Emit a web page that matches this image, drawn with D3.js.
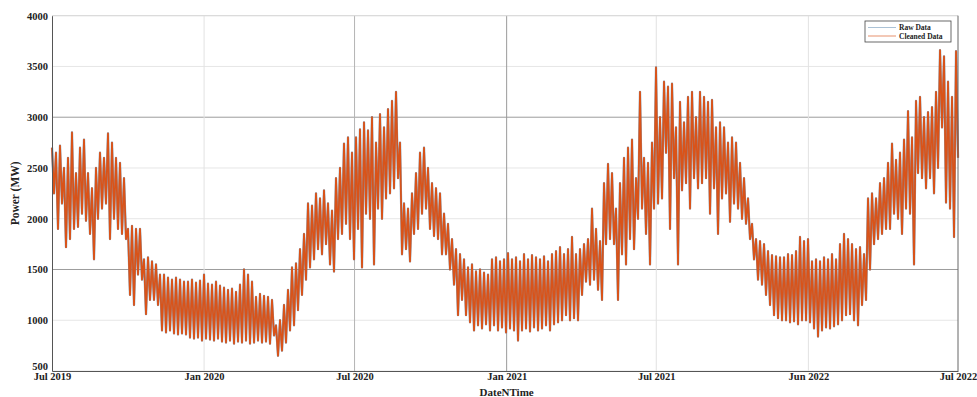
<!DOCTYPE html>
<html><head><meta charset="utf-8">
<script src="https://cdn.jsdelivr.net/npm/d3@7"></script>
<style>
body{margin:0;background:#fff}
svg text{font-family:"Liberation Serif","Times New Roman",serif !important;font-weight:bold;fill:#222}
</style>
</head><body><svg id="c" width="977" height="397"></svg>
<script>
// ---- data ----
const startDate = "2019-07-01";
const endDate = "2022-07-01";
const sampleDays = 4.839;           // spacing of successive peak/trough pairs
const peakMW = [
 2700,2650,2720,2500,2600,2850,2450,2700,2780,2450,2300,2500,2650,2600,2840,2750,2600,2550,2400,1900,1930,1900,1900,1600,1620,1580,1550,1450,1450,1420,1400,1420,1400,1380,
 1380,1400,1370,1390,1450,1360,1350,1380,1340,1320,1300,1310,1280,1350,1500,1450,1380,1230,1260,1240,1230,1200,950,1000,1150,1300,1520,1560,1700,1850,2150,2130,
 2250,2200,2280,2150,2080,2400,2500,2740,2800,2650,2800,2880,2950,2870,3000,2750,3030,2900,3080,3160,3250,2750,2150,2100,2250,2450,2650,2700,2500,2350,2300,2250,
 2050,1950,1800,1700,1650,1600,1520,1550,1480,1500,1470,1450,1600,1620,1580,1600,1660,1600,1620,1580,1650,1600,1640,1620,1600,1630,1580,1650,1680,1720,1650,1700,1820,
 1650,1700,1750,1800,2100,1900,1780,2350,2540,2450,2100,2350,2600,2700,2780,2400,3250,2600,2550,2750,3490,3000,3350,3300,3330,2900,3150,2950,3200,3250,3000,3250,3200,
 3150,3170,2900,2950,2900,2750,2800,2750,2550,2400,2200,1950,1800,1780,1750,1680,1640,1630,1620,1620,1650,1640,1680,1820,1780,1800,1580,1600,1580,1620,1600,1650,
 1600,1750,1850,1800,1750,1700,1720,1650,2200,2250,2200,2350,2400,2550,2740,2580,2650,2780,3060,2800,3160,3200,3000,3050,3100,3250,3660,3600,3350,3200,3650
];
const troughMW = [
 2250,1900,2150,1720,1800,1900,1920,2050,1980,1850,1600,2000,2100,2150,1800,2000,1900,1850,1800,1250,1150,1450,1400,1060,1200,1200,1150,900,880,900,870,860,870,860,
 830,820,830,800,820,810,800,820,790,780,800,770,790,780,800,770,780,800,780,790,770,850,650,700,780,900,950,1100,1250,1400,1520,1600,
 1700,1650,1750,1550,1480,1800,1850,1950,1800,1600,1900,1520,2050,2000,1550,2100,2000,2200,2250,2300,2400,1650,1700,1580,1850,1900,2050,2100,1900,1830,1800,1650,
 1650,1500,1350,1050,1200,1050,980,900,950,920,960,900,950,900,930,880,920,900,800,900,920,890,930,900,920,950,900,960,980,1000,1050,1000,1020,
 1000,1250,1380,1350,1400,1300,1200,1750,1800,1750,1200,1650,1550,1800,1700,2000,2100,1850,1550,2100,2150,2200,2650,1900,2400,1550,2280,2350,2100,2400,2300,2350,2400,
 2050,2300,1850,2200,2250,1970,2150,2100,2000,1950,1800,1600,1400,1350,1250,1150,1050,1020,1000,1000,980,990,960,1000,1000,980,920,840,900,930,920,940,
 960,1000,1050,1060,1000,950,1150,1200,1500,1750,1800,1850,1900,1900,2050,2000,1850,2100,2050,1550,2450,2400,2300,2400,2250,2500,2900,2160,2100,1820,2600
];
const xTickDates = ["2019-07-01","2020-01-01","2020-07-01","2021-01-01","2021-07-01","2022-01-01","2022-07-01"];
const xTickLabels = ["Jul 2019","Jan 2020","Jul 2020","Jan 2021","Jul 2021","Jun 2022","Jul 2022"];
const yTicks = [500,1000,1500,2000,2500,3000,3500,4000];
const seriesNames = ["Raw Data","Cleaned Data"];
const xTitle = "DateNTime";
const yTitle = "Power (MW)";

// ---- layout ----
const W = 977, H = 397;
const m = {left:52, right:19, top:15.7, bottom:26};
const iw = W - m.left - m.right, ih = H - m.top - m.bottom;
const parse = d3.utcParse("%Y-%m-%d");
const DAY = 86400000;

const x = d3.scaleUtc().domain([parse(startDate), parse(endDate)]).range([0, iw]);
const y = d3.scaleLinear().domain([500, 4000]).range([ih, 0]);

const svg = d3.select("#c");
const g = svg.append("g").attr("transform", `translate(${m.left},${m.top})`);

// grid
const darkY = new Set([1500, 3000]);
const gridX = {"2020-07-01":"#b4b4b4","2021-01-01":"#9a9a9a"};
g.append("g").selectAll("line").data(yTicks).join("line")
  .attr("x1", 0).attr("x2", iw)
  .attr("y1", d => y(d)).attr("y2", d => y(d))
  .attr("stroke", d => darkY.has(d) ? "#9c9c9c" : "#e6e6e6")
  .attr("stroke-width", 1);
g.append("g").selectAll("line").data(xTickDates.slice(1, -1)).join("line")
  .attr("x1", d => x(parse(d))).attr("x2", d => x(parse(d)))
  .attr("y1", 0).attr("y2", ih)
  .attr("stroke", d => gridX[d] || "#e2e2e2")
  .attr("stroke-width", 1);

// series points: peak then trough per sample
const start = parse(startDate).getTime();
const pts = [];
peakMW.forEach((p, i) => {
  const t = start + i * sampleDays * DAY;
  pts.push({t: new Date(t), v: p});
  pts.push({t: new Date(t + sampleDays * DAY / 2), v: troughMW[i]});
});
const line = d3.line().x(d => x(d.t)).y(d => y(d.v));

const rawColor = "#4f7ea8", cleanColor = "#d95319";
g.append("path").datum(pts).attr("d", line)
  .attr("fill", "none").attr("stroke", rawColor).attr("stroke-width", 2.3).attr("stroke-opacity", 0.7)
  .attr("stroke-linejoin", "round");
g.append("path").datum(pts).attr("d", line)
  .attr("fill", "none").attr("stroke", cleanColor).attr("stroke-width", 1.8)
  .attr("stroke-linejoin", "round");

// frame
g.append("line").attr("x1", 0).attr("x2", iw).attr("y1", 0).attr("y2", 0).attr("stroke", "#d8d8d8");
g.append("line").attr("x1", iw).attr("x2", iw).attr("y1", 0).attr("y2", ih).attr("stroke", "#666");

// axes
const yAxis = d3.axisLeft(y).tickValues(yTicks).tickFormat(d3.format("d")).tickSize(0).tickPadding(4);
const ya = g.append("g").call(yAxis).attr("font-family", null);
ya.select(".domain").attr("stroke", "#555");
ya.selectAll("text").attr("font-size", 10.5);
ya.selectAll(".tick").filter(d => d === 500).select("text").attr("dy", "-0.1em");

const xAxis = d3.axisBottom(x).tickValues(xTickDates.map(parse))
  .tickFormat((d, i) => xTickLabels[i]).tickSize(0).tickPadding(2);
const xa = g.append("g").attr("transform", `translate(0,${ih})`).call(xAxis).attr("font-family", null);
xa.select(".domain").attr("stroke", "#555");
xa.selectAll("text").attr("font-size", 10.5);

// titles
svg.append("text").attr("x", m.left + x(parse("2021-01-01"))).attr("y", 396)
  .attr("text-anchor", "middle").attr("font-size", 11).text(xTitle);
svg.append("text").attr("transform", `translate(19,${m.top + ih / 2}) rotate(-90)`)
  .attr("text-anchor", "middle").attr("font-size", 11.5).text(yTitle);

// legend
const lg = svg.append("g").attr("transform", "translate(865,21)");
lg.append("rect").attr("width", 86).attr("height", 21).attr("fill", "#fff").attr("stroke", "#444").attr("stroke-width", 0.8);
const legendColors = [rawColor, cleanColor];
seriesNames.forEach((s, i) => {
  const yy = 6.5 + i * 8.5;
  lg.append("line").attr("x1", 3).attr("x2", 31).attr("y1", yy).attr("y2", yy)
    .attr("stroke", legendColors[i]).attr("stroke-width", 0.8).attr("stroke-opacity", i === 0 ? 0.6 : 0.8);
  lg.append("text").attr("x", 34).attr("y", yy + 2.5).attr("font-size", 7.5).text(s);
});
</script>
</body></html>
